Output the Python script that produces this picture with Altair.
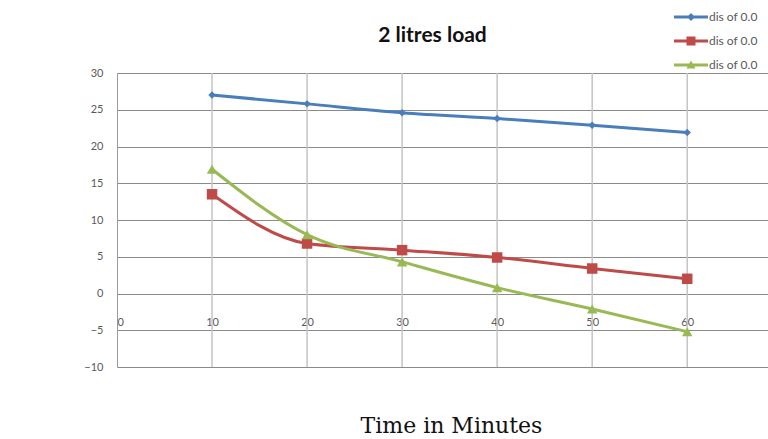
import altair as alt
import pandas as pd

# ---- data ----
times = [10, 20, 30, 40, 50, 60]
series_names = ["dis of 0.0", "dis of 0.0 ", "dis of 0.0  "]
blue_vals = [27.0, 25.8, 24.6, 23.8, 22.9, 21.9]
red_vals = [13.5, 6.8, 5.9, 4.9, 3.4, 2.0]
green_vals = [16.9, 8.0, 4.3, 0.8, -2.1, -5.2]
x_ticks = [0, 10, 20, 30, 40, 50, 60]
y_ticks = [-10, -5, 0, 5, 10, 15, 20, 25, 30]

colors = ["#4a7ebb", "#be4b48", "#98b954"]
shapes = ["diamond", "square", "triangle-up"]
sizes = [55, 110, 110]
# legend symbols: a short line with the series marker in the middle
legend_paths = [
    "M-3.4,-0.3L3.4,-0.3L3.4,0.3L-3.4,0.3Z M0,-0.8L0.8,0L0,0.8L-0.8,0Z",
    "M-3.4,-0.3L3.4,-0.3L3.4,0.3L-3.4,0.3Z M-0.9,-0.9L0.9,-0.9L0.9,0.9L-0.9,0.9Z",
    "M-3.4,-0.3L3.4,-0.3L3.4,0.3L-3.4,0.3Z M0,-0.9L0.9,0.7L-0.9,0.7Z",
]

rows = []
for name, vals in zip(series_names, [blue_vals, red_vals, green_vals]):
    for t, v in zip(times, vals):
        rows.append({"time": t, "value": v, "series": name})
df = pd.DataFrame(rows)
grid_df = pd.DataFrame({"time": times})

x_scale = alt.Scale(domain=[0, 68.5], nice=False, zero=False)
y_scale = alt.Scale(domain=[-10, 30], nice=False, zero=False)

x_axis = alt.Axis(
    values=x_ticks, grid=False, domain=False, ticks=False, offset=-55,
    labelPadding=4, labelColor="#595959", labelFontSize=11, labelFont="Lato",
    title="Time in Minutes", titleFont="DejaVu Serif", titleFontSize=22,
    titleFontWeight="normal", titleColor="#111111", titleY=113, titleX=334,
    titleAlign="center", titleBaseline="middle",
)
y_axis = alt.Axis(
    values=y_ticks, grid=True, gridColor="#8a8a8a", gridWidth=1,
    domain=True, domainColor="#9a9a9a", ticks=False, labelPadding=14,
    labelColor="#595959", labelFontSize=11, labelFont="Lato", title=None,
)

legend = alt.Legend(
    title=None, orient="none", legendX=568, legendY=-62, padding=0,
    symbolSize=100, symbolOpacity=1, symbolStrokeWidth=0,
    labelFontSize=12, labelFont="Lato", labelColor="#595959",
    labelOffset=12, rowPadding=12,
)
color_enc = alt.Color(
    "series:N", scale=alt.Scale(domain=series_names, range=colors), legend=legend
)

x_enc = alt.X("time:Q", scale=x_scale, axis=x_axis)
y_enc = alt.Y("value:Q", scale=y_scale, axis=y_axis)

vgrid = alt.Chart(grid_df).mark_rule(color="#c4c4c4", strokeWidth=1.5).encode(x=x_enc)

lines = alt.Chart(df).mark_line(strokeWidth=3, interpolate="monotone").encode(
    x=x_enc, y=y_enc, color=color_enc
)

point_layers = []
for name, shp, sz in zip(series_names, shapes, sizes):
    point_layers.append(
        alt.Chart(df)
        .transform_filter(alt.datum.series == name)
        .mark_point(filled=True, opacity=1, shape=shp, size=sz)
        .encode(x=x_enc, y=y_enc, color=color_enc)
    )

legend_layer = alt.Chart(df).mark_point(filled=True, opacity=0).encode(
    x=x_enc,
    y=y_enc,
    color=color_enc,
    shape=alt.Shape(
        "series:N", scale=alt.Scale(domain=series_names, range=legend_paths), legend=legend
    ),
)

chart = (
    alt.layer(vgrid, lines, *point_layers, legend_layer)
    .properties(
        width=651,
        height=294,
        autosize=alt.AutoSizeParams(type="none"),
        padding={"left": 117, "top": 73, "right": 0, "bottom": 72},
        title=alt.TitleParams(
            "2 litres load", fontSize=21, font="Lato", fontWeight="bold",
            color="#111111", offset=-35, anchor="middle", dx=-10,
        ),
        background="white",
    )
    .configure_view(stroke=None)
)

chart.save("out.html", embed_options={"renderer": "svg", "actions": False})
